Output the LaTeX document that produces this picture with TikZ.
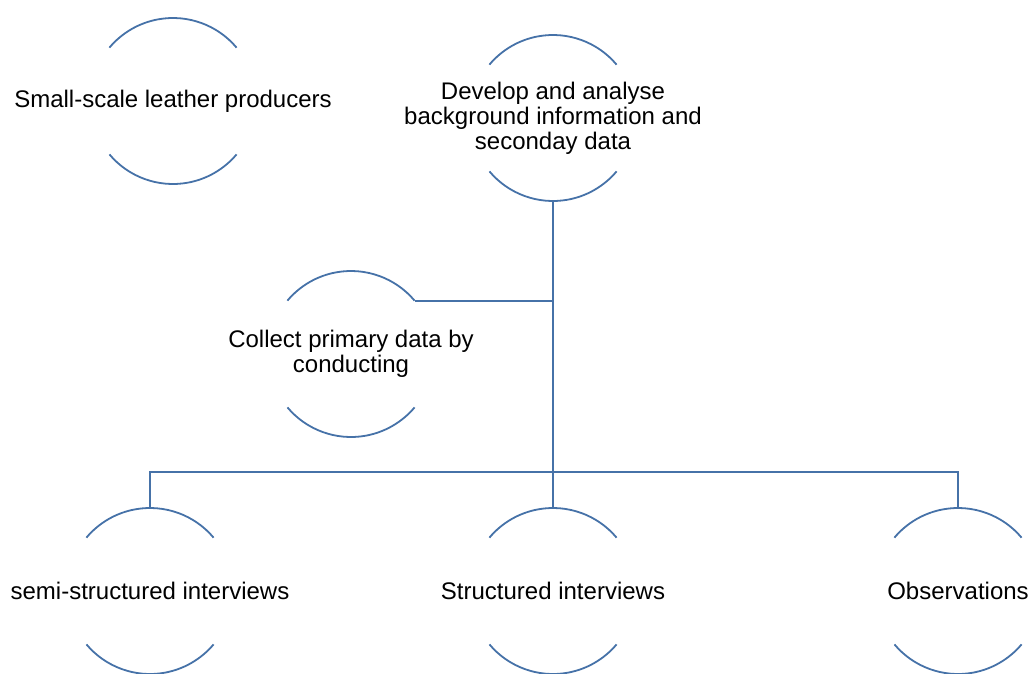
\documentclass[tikz,border=0pt]{standalone}
\usepackage{fontspec}
\setmainfont{Liberation Sans}
\definecolor{arcblue}{RGB}{70,114,168}
\begin{document}
\begin{tikzpicture}[x=1pt,y=-1pt,
  ring/.style={circle,draw=none,minimum size=166pt,inner sep=0pt,outer sep=0pt},
  lbl/.style={align=center,font=\fontsize{24}{25}\selectfont,inner sep=0pt,text=black},
  arcline/.style={draw=arcblue,line width=1.8pt},
  conn/.style={draw=arcblue,line width=1.8pt}]
\useasboundingbox (0,0) rectangle (1031,673);
% ring nodes
\node[ring] (c1) at (173,101) {};
\node[ring] (c2) at (553,118) {};
\node[ring] (c3) at (351,354) {};
\node[ring] (c4) at (150,591) {};
\node[ring] (c5) at (553,591) {};
\node[ring] (c6) at (958,591) {};
% labels
\node[lbl] (t1) at (c1) {Small-scale leather producers};
\node[lbl] (t2) at (c2) {Develop and analyse\\background information and\\seconday data};
\node[lbl] (t3) at (c3) {Collect primary data by\\conducting};
\node[lbl] (t4) at (c4) {semi-structured interviews};
\node[lbl] (t5) at (c5) {Structured interviews};
\node[lbl] (t6) at (c6) {Observations};
% arcs
\foreach \n in {c1,c2,c3,c4,c5,c6}{
  \draw[arcline] (\n.40) arc[start angle=40,end angle=140,radius=83pt];
  \draw[arcline] (\n.220) arc[start angle=220,end angle=320,radius=83pt];
}
% connectors
\coordinate (bus) at (553,472);
\draw[conn] (c2.south) -- (c5.north);
\draw[conn] (c3.40) -- (c3.40 -| c2.south);
\draw[conn] (c4.north) |- (bus) -| (c6.north);
\end{tikzpicture}
\end{document}
